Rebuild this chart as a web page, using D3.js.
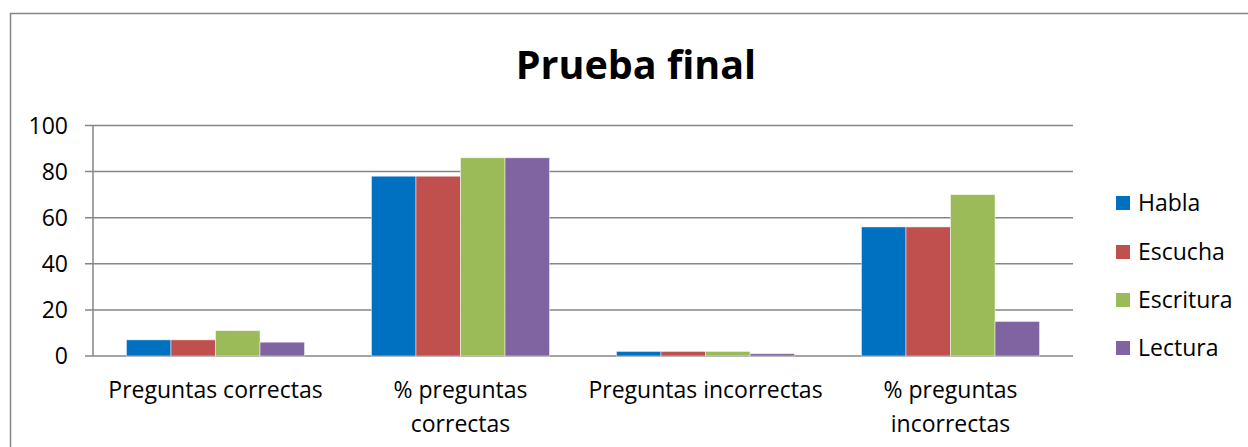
<!DOCTYPE html>
<html><head><meta charset="utf-8">
<script src="https://cdn.jsdelivr.net/npm/d3@7"></script>
<style>html,body{margin:0;padding:0;background:#fff;}svg{display:block;}</style>
</head><body>
<script>
const categories = [["Preguntas correctas"], ["% preguntas", "correctas"], ["Preguntas incorrectas"], ["% preguntas", "incorrectas"]];
const seriesNames = ["Habla", "Escucha", "Escritura", "Lectura"];
const habla = [7, 78, 2, 56];
const escucha = [7, 78, 2, 56];
const escritura = [11, 86, 2, 70];
const lectura = [6, 86, 1, 15];
const yTicks = [0, 20, 40, 60, 80, 100];
const colors = ["#0070C0", "#C0504D", "#9BBB59", "#8064A2"];
const title = "Prueba final";

const seriesValues = [habla, escucha, escritura, lectura];
const W = 1248, H = 447;
const FONT = "'Open Sans', Lato, sans-serif";
const svg = d3.select("body").append("svg").attr("width", W).attr("height", H);
svg.append("rect").attr("width", W).attr("height", H).attr("fill", "#fff");
svg.append("rect").attr("x", 10.5).attr("y", 13.5).attr("width", 1300).attr("height", 500)
  .attr("fill", "none").attr("stroke", "#868686").attr("stroke-width", 1.5);

const catKeys = categories.map(c => c.join(" "));
const x = d3.scaleBand().domain(catKeys).range([93, 1073]).paddingInner(0.273).paddingOuter(0.1365);
const xs = d3.scaleBand().domain(seriesNames).range([0, x.bandwidth()]);
const y = d3.scaleLinear().domain([0, 100]).range([356, 125.5]);

svg.append("text").attr("x", 636).attr("y", 79).attr("text-anchor", "middle")
  .attr("font-family", FONT).attr("font-weight", "bold").attr("font-size", 39.5).attr("fill", "#000").text(title);

// gridlines
const grid = svg.append("g");
grid.selectAll("line").data(yTicks).join("line")
  .attr("x1", 85).attr("x2", 1073).attr("y1", d => y(d)).attr("y2", d => y(d))
  .attr("stroke", "#868686").attr("stroke-width", 1.5);
svg.append("line").attr("x1", 93).attr("x2", 93).attr("y1", y(100)).attr("y2", y(0))
  .attr("stroke", "#868686").attr("stroke-width", 1.5);

// y labels
svg.append("g").selectAll("text").data(yTicks).join("text")
  .attr("x", 68).attr("y", d => y(d)).attr("dy", "0.36em").attr("text-anchor", "end")
  .attr("font-family", FONT).attr("font-size", 23).attr("fill", "#000").text(d => d);

// bars
const g = svg.append("g");
seriesNames.forEach((s, si) => {
  g.append("g").selectAll("rect").data(seriesValues[si]).join("rect")
    .attr("x", (d, i) => x(catKeys[i]) + xs(s))
    .attr("y", d => y(d))
    .attr("width", xs.bandwidth())
    .attr("height", d => y(0) - y(d))
    .attr("fill", colors[si])
    .attr("stroke", "#ffffff").attr("stroke-opacity", 0.6).attr("stroke-width", 0.8);
});

// x labels
const xl = svg.append("g");
categories.forEach((lines, i) => {
  const cx = x(catKeys[i]) + x.bandwidth() / 2;
  lines.forEach((ln, j) => {
    xl.append("text").attr("x", cx).attr("y", 398 + j * 34).attr("text-anchor", "middle")
      .attr("font-family", FONT).attr("font-size", 23).attr("fill", "#000").text(ln);
  });
});

// legend
const lg = svg.append("g");
const legY = [203, 252, 300, 348];
seriesNames.forEach((s, i) => {
  lg.append("rect").attr("x", 1116).attr("y", legY[i] - 7).attr("width", 14).attr("height", 14).attr("fill", colors[i]);
  lg.append("text").attr("x", 1138).attr("y", legY[i]).attr("dy", "0.36em")
    .attr("font-family", FONT).attr("font-size", 23).attr("fill", "#000").text(s);
});
</script>
</body></html>
